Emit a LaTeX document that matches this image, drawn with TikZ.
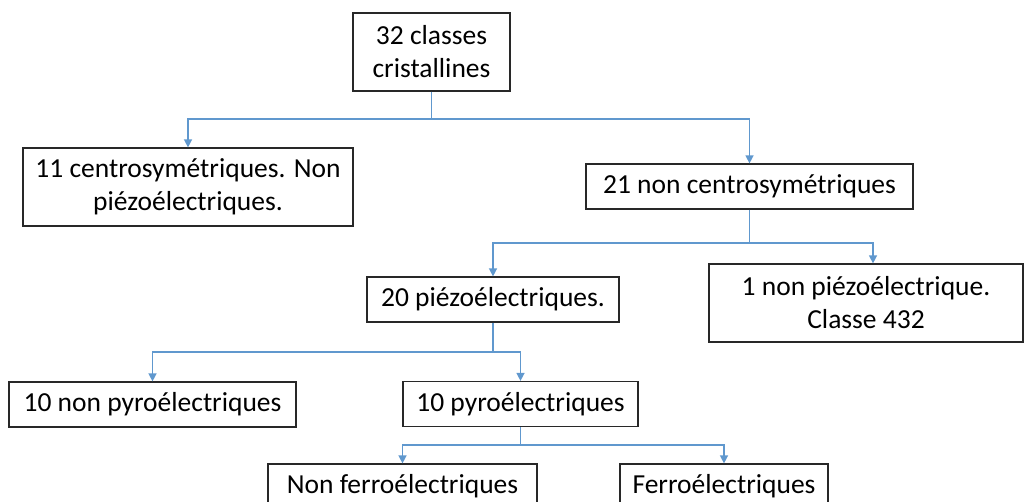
\documentclass[tikz,border=0pt]{standalone}
\usepackage{fontspec}
\setmainfont{Carlito}
\usepackage{xcolor}
\usetikzlibrary{arrows.meta,positioning}
\definecolor{linkblue}{RGB}{96,152,206}
\definecolor{boxline}{RGB}{40,40,40}
\tikzset{
  box/.style={draw=boxline, line width=1.2pt, inner sep=0pt, align=center,
    minimum height=45pt, font=\fontsize{27.5}{33}\selectfont},
  link/.style={draw=linkblue, line width=1.4pt, -{Triangle[length=8pt,width=8pt]}},
  stem/.style={draw=linkblue, line width=1.4pt},
}
\begin{document}
\begin{tikzpicture}[x=1pt,y=-1pt]
\useasboundingbox (0,0) rectangle (1024,502);
\clip (0,0) rectangle (1024,502);
% level 0
\node[box, minimum width=157pt, minimum height=78pt] (root) at (431.5,52) {32 classes\\cristallines};
% level 1
\node[box, minimum width=330pt, minimum height=78pt] (cen) at (188,187) {11 centrosymétriques. Non\\piézoélectriques.};
\node[box, minimum width=327pt] (ncen) at (749.5,186.5) {21 non centrosymétriques};
% level 2
\node[box, minimum width=252pt] (pz) at (493,299.5) {20 piézoélectriques.};
\node[box, minimum width=314pt, minimum height=78pt] (npz) at (866,303) {1 non piézoélectrique.\\Classe 432};
% level 3
\node[box, minimum width=287pt] (npy) at (152.5,404.5) {10 non pyroélectriques};
\node[box, minimum width=235pt] (py) at (520.5,404) {10 pyroélectriques};
% level 4
\node[box, minimum width=269pt] (nfe) at (402.5,486.5) {Non ferroélectriques};
\node[box, minimum width=208pt] (fe) at (724,486.5) {Ferroélectriques};

% junctions
\coordinate (j1) at (431.5,119);
\coordinate (j2) at (749.5,243);
\coordinate (j3) at (493,352);
\coordinate (j4) at (520.5,445);

\draw[stem] (root.south) -- (j1);
\draw[link] (j1) -| (cen.north);
\draw[link] (j1) -| (ncen.north);
\draw[stem] (ncen.south) -- (j2);
\draw[link] (j2) -| (pz.north);
\draw[link] (j2) -| ([xshift=7pt]npz.north);
\draw[stem] (pz.south) -- (j3);
\draw[link] (j3) -| (npy.north);
\draw[link] (j3) -| (py.north);
\draw[stem] (py.south) -- (j4);
\draw[link] (j4) -| (nfe.north);
\draw[link] (j4) -| (fe.north);
\end{tikzpicture}
\end{document}
